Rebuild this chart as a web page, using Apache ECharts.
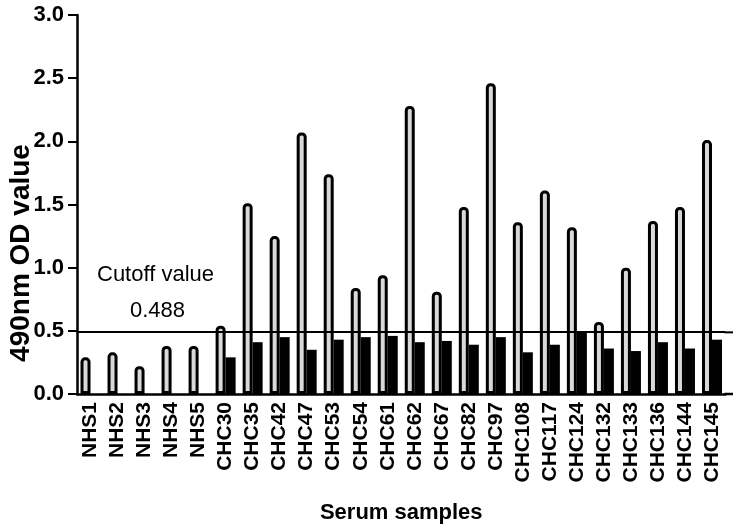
<!DOCTYPE html>
<html>
<head>
<meta charset="utf-8">
<script src="https://cdn.jsdelivr.net/npm/echarts@6/dist/echarts.min.js"></script>
<style>
html,body{margin:0;padding:0;background:#fff;}
#main{width:741px;height:529px;}
</style>
</head>
<body>
<div id="main"></div>
<script>
// samples on the x axis
var samples = ['NHS1','NHS2','NHS3','NHS4','NHS5','CHC30','CHC35','CHC42','CHC47','CHC53','CHC54','CHC61',
	'CHC62','CHC67','CHC82','CHC97','CHC108','CHC117','CHC124','CHC132','CHC133','CHC136','CHC144','CHC145'];
// open bars
var openValues = [0.29,0.33,0.22,0.38,0.38,0.54,1.51,1.25,2.07,1.74,0.84,0.94,
	2.28,0.81,1.48,2.46,1.36,1.61,1.32,0.57,1.00,1.37,1.48,2.01];
// filled bars (none for NHS)
var filledValues = [null,null,null,null,null,0.29,0.41,0.45,0.35,0.43,0.45,0.46,
	0.41,0.42,0.39,0.45,0.33,0.39,0.49,0.36,0.34,0.41,0.36,0.43];
var yTicks = ['0.0','0.5','1.0','1.5','2.0','2.5','3.0'];
var cutoff = 0.488;

var myChart = echarts.init(document.getElementById('main'));
var lbFont = 'Liberation Sans';
var option = {
	animation: false,
	grid: {left: 77, right: 15.5, top: 15, bottom: 134},
	xAxis: {
		type: 'category',
		data: samples,
		boundaryGap: true,
		name: 'Serum samples',
		nameLocation: 'middle',
		nameGap: 108,
		nameTextStyle: {fontFamily: lbFont, fontWeight: 'bold', fontSize: 22, color: '#000'},
		axisLine: {lineStyle: {color: '#000', width: 2.5}},
		axisTick: {alignWithLabel: true, length: 7, lineStyle: {color: '#000', width: 2}},
		axisLabel: {rotate: 90, margin: 8, interval: 0, color: '#000', fontFamily: lbFont, fontWeight: 'bold', fontSize: 21}
	},
	yAxis: {
		type: 'value',
		min: 0,
		max: 3,
		interval: 0.5,
		splitLine: {show: false},
		axisLine: {show: true, lineStyle: {color: '#000', width: 2.5}},
		axisTick: {show: true, length: 9, lineStyle: {color: '#000', width: 2}},
		axisLabel: {
			margin: 13, color: '#000', fontFamily: lbFont, fontWeight: 'bold', fontSize: 22,
			formatter: function(v){ return yTicks[Math.round(v/0.5)]; }
		}
	},
	series: [
		{
			type: 'bar',
			barWidth: 10,
			barGap: '0%',
			itemStyle: {color: '#d9d9d9', borderColor: '#000', borderWidth: 3, borderRadius: [3,3,0,0]},
			data: openValues,
			markLine: {
				silent: true,
				symbol: 'none',
				label: {show: false},
				lineStyle: {color: '#000', width: 2, type: 'solid'},
				data: [{yAxis: cutoff}]
			}
		},
		{
			type: 'bar',
			barWidth: 10,
			itemStyle: {color: '#000'},
			data: filledValues
		}
	],
	graphic: [
		{type: 'text', left: 97, top: 264, style: {text: 'Cutoff value', font: '22px "Liberation Sans"', fill: '#000'}},
		{type: 'text', left: 130, top: 300, style: {text: '0.488', font: '22px "Liberation Sans"', fill: '#000'}},
		{type: 'text', x: 7, y: 253, rotation: Math.PI/2,
			style: {text: '490nm OD value', font: 'bold 28px "Liberation Sans"', fill: '#000', align: 'center', verticalAlign: 'top'}}
	]
};
myChart.setOption(option);

// the x axis and the cutoff line run a little past the last sample
var xEnd = 733;
var gridRight = 741 - 15.5;
var y0 = myChart.convertToPixel({yAxisIndex: 0}, 0);
var yc = myChart.convertToPixel({yAxisIndex: 0}, cutoff);
option.graphic.push(
	{type: 'line', shape: {x1: gridRight - 1, y1: y0, x2: xEnd, y2: y0}, style: {stroke: '#000', lineWidth: 2.5}},
	{type: 'line', shape: {x1: gridRight - 1, y1: yc, x2: xEnd, y2: yc}, style: {stroke: '#000', lineWidth: 2}}
);
myChart.setOption({graphic: option.graphic});
</script>
</body>
</html>
